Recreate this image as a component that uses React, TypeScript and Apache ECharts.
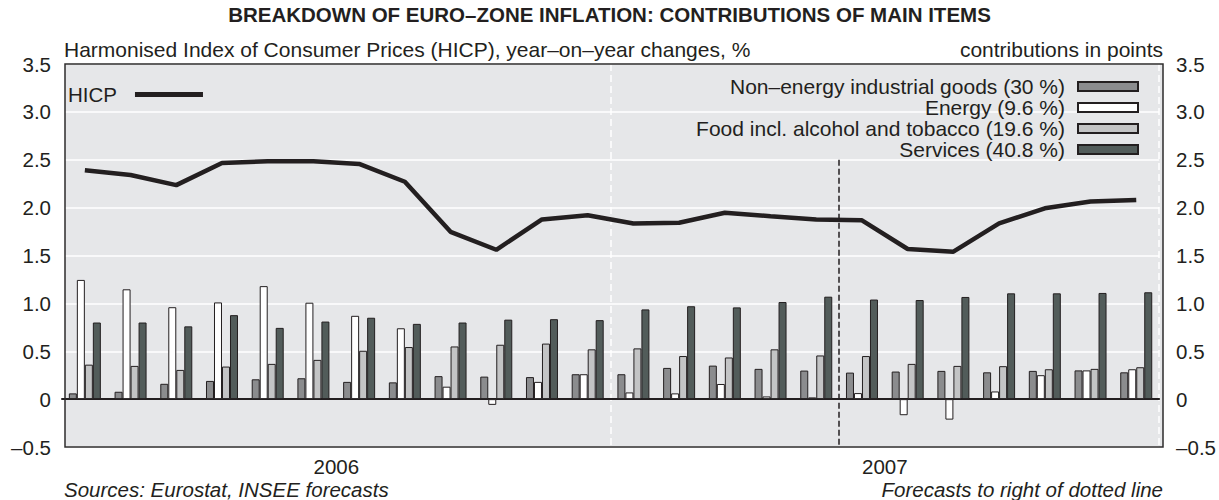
import React, { useEffect, useRef } from 'react';
import * as echarts from 'echarts';

const months = [
  'Jan 2006', 'Feb 2006', 'Mar 2006', 'Apr 2006', 'May 2006', 'Jun 2006',
  'Jul 2006', 'Aug 2006', 'Sep 2006', 'Oct 2006', 'Nov 2006', 'Dec 2006',
  'Jan 2007', 'Feb 2007', 'Mar 2007', 'Apr 2007', 'May 2007', 'Jun 2007',
  'Jul 2007', 'Aug 2007', 'Sep 2007', 'Oct 2007', 'Nov 2007', 'Dec 2007',
];

const neig = [0.06, 0.077, 0.16, 0.19, 0.207, 0.218, 0.18, 0.175, 0.24, 0.235, 0.23, 0.26,
  0.26, 0.326, 0.35, 0.316, 0.298, 0.277, 0.288, 0.295, 0.28, 0.295, 0.3, 0.28];
const energy = [1.245, 1.147, 0.96, 1.01, 1.18, 1.007, 0.87, 0.74, 0.13, -0.06, 0.18, 0.26,
  0.07, 0.06, 0.158, 0.028, 0.018, 0.063, -0.168, -0.214, 0.08, 0.25, 0.3, 0.312];
const food = [0.36, 0.347, 0.305, 0.34, 0.368, 0.41, 0.505, 0.544, 0.55, 0.568, 0.58, 0.52,
  0.53, 0.45, 0.435, 0.52, 0.456, 0.45, 0.368, 0.347, 0.344, 0.312, 0.316, 0.333];
const services = [0.8, 0.8, 0.76, 0.877, 0.744, 0.81, 0.85, 0.786, 0.8, 0.83, 0.835, 0.825,
  0.937, 0.97, 0.958, 1.014, 1.07, 1.04, 1.035, 1.067, 1.105, 1.105, 1.109, 1.116];
const hicp = [2.39, 2.34, 2.235, 2.467, 2.484, 2.484, 2.456, 2.27, 1.747, 1.56, 1.877, 1.92,
  1.835, 1.842, 1.947, 1.91, 1.877, 1.867, 1.568, 1.54, 1.835, 1.993, 2.063, 2.08];

const seriesNames = [
  'Non–energy industrial goods (30 %)',
  'Energy (9.6 %)',
  'Food incl. alcohol and tobacco (19.6 %)',
  'Services (40.8 %)',
];
const hicpName = 'HICP';

const yTicks = [-0.5, 0, 0.5, 1, 1.5, 2, 2.5, 3, 3.5];
const yTickLabels = ['–0.5', '0', '0.5', '1.0', '1.5', '2.0', '2.5', '3.0', '3.5'];
const yearLabels = ['2006', '2007'];
const forecastStartIndex = 17;
const forecastTop = 2.5;

const TITLE = 'BREAKDOWN OF EURO–ZONE INFLATION: CONTRIBUTIONS OF MAIN ITEMS';
const SUB_LEFT = 'Harmonised Index of Consumer Prices (HICP), year–on–year changes, %';
const SUB_RIGHT = 'contributions in points';
const SOURCE = 'Sources: Eurostat, INSEE forecasts';
const NOTE = 'Forecasts to right of dotted line';

const FONT = '"Liberation Sans", Arial, Helvetica, sans-serif';
const INK = '#231f20';
const colors = ['#8b8c8e', '#ffffff', '#c3c4c5', '#525c5a'];

const yLabel = (v: number) => {
  const i = yTicks.findIndex((t) => Math.abs(t - v) < 1e-6);
  return i >= 0 ? yTickLabels[i] : '';
};
const yearLabel = (v: number) => {
  if (v % 12 === 6) return yearLabels[(v - 6) / 12] || '';
  return '';
};

export default function App() {
  const ref = useRef<HTMLDivElement>(null);
  useEffect(() => {
    if (!ref.current) return;
    const chart = echarts.init(ref.current, null, { renderer: 'svg' });
    const seriesData = [neig, energy, food, services];
    const txt = (size: number, extra: any = {}) => ({
      fontFamily: FONT, fontSize: size, color: INK, fontWeight: 'normal', lineHeight: 20, ...extra,
    });
    const option: any = {
      animation: false,
      textStyle: { fontFamily: FONT, color: INK },
      title: [
        { text: TITLE, left: 'center', top: 4, padding: 0, textStyle: txt(20.5, { fontWeight: 'bold' }) },
        { text: SUB_LEFT, left: 64, top: 39, padding: 0, textStyle: txt(21) },
        { text: SUB_RIGHT, right: 56, top: 39, padding: 0, textStyle: txt(21) },
        { text: SOURCE, left: 64, top: 479, padding: 0, textStyle: txt(20.5, { fontStyle: 'italic' }) },
        { text: NOTE, right: 56, top: 479, padding: 0, textStyle: txt(20.5, { fontStyle: 'italic' }) },
      ],
      legend: [
        {
          data: [hicpName], left: 68, top: 84, orient: 'vertical', align: 'right', icon: 'rect',
          itemWidth: 68, itemHeight: 5, selectedMode: false, padding: 0,
          textStyle: txt(20.5, { padding: [0, 13, 0, 0] }),
        },
        {
          data: seriesNames, right: 80, top: 76, orient: 'vertical', align: 'right', icon: 'rect',
          itemWidth: 60, itemHeight: 9, itemGap: 0, selectedMode: false, padding: 0,
          textStyle: txt(21, { padding: [0, 8, 0, 0] }),
        },
      ],
      graphic: [
        {
          type: 'rect', z: -10, silent: true,
          shape: { x: 65, y: 64, width: 1098, height: 383 },
          style: { fill: '#e6e7e9' },
        },
        {
          type: 'rect', z: 100, silent: true,
          shape: { x: 65, y: 64, width: 1098, height: 383 },
          style: { fill: 'none', stroke: '#2e2c2d', lineWidth: 1.5 },
        },
      ],
      grid: { left: 62, right: 59, top: 64, bottom: 53, containLabel: false },
      xAxis: [
        {
          type: 'category', data: months, boundaryGap: true, position: 'bottom',
          axisLine: { show: true, onZero: true, lineStyle: { color: INK, width: 2 } },
          axisTick: { show: false }, axisLabel: { show: false }, splitLine: { show: false },
        },
        {
          type: 'value', min: 0, max: 24, interval: 12, position: 'bottom',
          axisLine: { show: false, onZero: false }, axisTick: { show: false }, axisLabel: { show: false },
          splitLine: { show: true, lineStyle: { color: '#ffffff', width: 1.5, type: [7, 4] } },
        },
        {
          type: 'value', min: 0, max: 24, interval: 6, position: 'bottom',
          axisLine: { show: false, onZero: false }, axisTick: { show: false }, splitLine: { show: false },
          axisLabel: { formatter: yearLabel, margin: 9, ...txt(20.5) },
        },
      ],
      yAxis: [
        {
          type: 'value', min: -0.5, max: 3.5, interval: 0.5, position: 'left',
          axisLine: { show: false, onZero: false }, axisTick: { show: false },
          splitLine: { show: true, lineStyle: { color: '#ffffff', width: 1.5 } },
          axisLabel: { formatter: yLabel, margin: 11, ...txt(20.5) },
        },
        {
          type: 'value', min: -0.5, max: 3.5, interval: 0.5, position: 'right',
          axisLine: { show: false, onZero: false }, axisTick: { show: false },
          splitLine: { show: false },
          axisLabel: { formatter: yLabel, margin: 17, ...txt(20.5) },
        },
      ],
      series: [
        ...seriesNames.map((name, i) => ({
          name, type: 'bar', data: seriesData[i], xAxisIndex: 0, yAxisIndex: 0,
          barWidth: 8, barGap: '0%',
          itemStyle: { color: colors[i], borderColor: INK, borderWidth: 1 },
          z: 2,
        })),
        {
          name: hicpName, type: 'line', data: hicp, xAxisIndex: 0, yAxisIndex: 0,
          symbol: 'none', color: INK, lineStyle: { color: INK, width: 4.5 }, z: 5,
        },
        {
          name: 'forecast', type: 'line', data: [], xAxisIndex: 1, yAxisIndex: 0,
          markLine: {
            silent: true, symbol: ['none', 'none'], label: { show: false },
            lineStyle: { color: INK, width: 1.5, type: [6, 3] },
            data: [[{ coord: [forecastStartIndex, forecastTop] }, { coord: [forecastStartIndex, -0.5] }]],
          },
        },
      ],
    };
    chart.setOption(option);
    return () => chart.dispose();
  }, []);
  return <div ref={ref} style={{ position: 'absolute', left: 0, top: 0, width: 1219, height: 500 }} />;
}
